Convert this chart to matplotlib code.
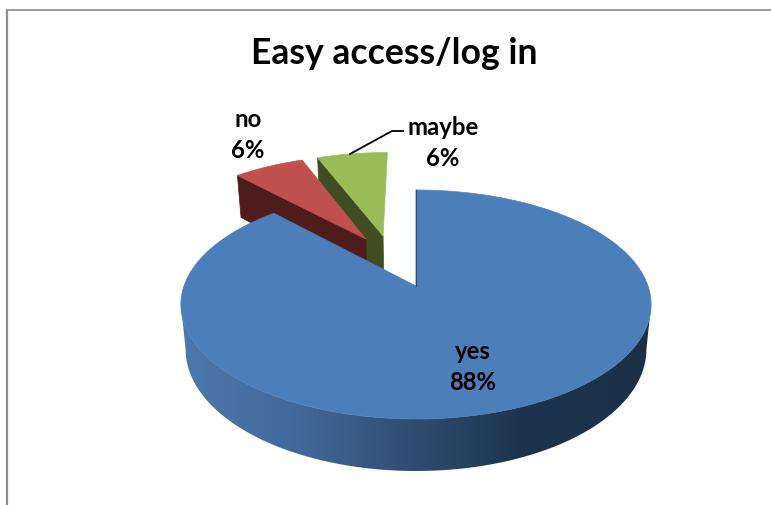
import numpy as np
import matplotlib
matplotlib.use("Agg")
import matplotlib.pyplot as plt
from matplotlib.patches import Polygon
from matplotlib.colors import LinearSegmentedColormap

# ---- data ----
categories = ["yes", "no", "maybe"]
values = [88, 6, 6]
title = "Easy access/log in"

# ---- style ----
top_colors = ["#4C7EBA", "#C0504D", "#9BBB59"]
wall_colors = ["#1D3249", "#4E1D1B", "#3F4D22"]
explode_offsets = [(0.0, 0.0), (-0.232, 0.452), (-0.153, 0.4835)]
label_xy = [(473, 367), (248, 135), (443, 143)]
APEX = (416.0, 287.0)
A, B, K = 232.0, 111.5, 0.1616
rim_stops_x = [182, 300, 416, 520, 652]
rim_stops_c = ["#4D78AC", "#42689A", "#2F4C70", "#1E344E", "#1C3048"]

plt.rcParams["font.family"] = ["Lato", "DejaVu Sans"]
fig = plt.figure(figsize=(7.71, 5.06), dpi=100, facecolor="white")
ax = fig.add_axes([0, 0, 1, 1])
ax.set_xlim(0, 771)
ax.set_ylim(506, 0)
ax.axis("off")


def project(u, v, depth=0.0, xscale=1.0):
    """Perspective projection of the unit-radius pie plane to pixels."""
    w = 1 + K * v
    x = APEX[0] + xscale * A * u / w
    y = APEX[1] - B * v / w + depth / w
    return x, y


def edge(theta):
    return np.sin(theta), np.cos(theta)


# slice angles follow the values, clockwise from 12 o'clock
fracs = np.array(values, dtype=float) / sum(values)
ends = np.cumsum(fracs) * 2 * np.pi
starts = ends - fracs * 2 * np.pi

# frame of the screenshot
ax.plot([7, 7], [506, 10.5], color="#8E8E8E", lw=1.6, solid_capstyle="butt", zorder=1)
ax.plot([6, 771], [10.5, 10.5], color="#8E8E8E", lw=1.2, solid_capstyle="butt", zorder=1)

# exploded slices back to front: maybe, no
for z, i in zip((2, 4), (2, 1)):
    ou, ov = explode_offsets[i]
    t = np.linspace(starts[i], ends[i], 40)
    su, sv = edge(t)
    u0, v0 = edge(starts[i])
    a = project(ou, ov)
    b = project(ou + u0, ov + v0)
    c = project(ou + u0, ov + v0, 50, 0.98)
    d = project(ou, ov, 50, 0.98)
    ax.fill([a[0], b[0], c[0], d[0]], [a[1], b[1], c[1], d[1]],
            color=wall_colors[i], lw=0.5, zorder=z)
    px, py = project(np.r_[ou, ou + su], np.r_[ov, ov + sv])
    ax.fill(px, py, color=top_colors[i], lw=0.5, zorder=z + 1)

# main slice rim: between the side extremes of both planes, smooth shading
t = np.linspace(np.radians(40), np.radians(320), 600)
su, sv = edge(t)
xt, yt = project(su, sv)
xb, yb = project(su, sv, 43.6, 0.98)
rt, lt = np.argmax(xt), np.argmin(xt)
rb, lb = np.argmax(xb), np.argmin(xb)
cmap = LinearSegmentedColormap.from_list(
    "rim", [((x - rim_stops_x[0]) / (rim_stops_x[-1] - rim_stops_x[0]), c)
            for x, c in zip(rim_stops_x, rim_stops_c)])
grad = ax.imshow(np.linspace(0, 1, 512)[None, :], extent=(rim_stops_x[0], rim_stops_x[-1], 480, 280),
                 cmap=cmap, aspect="auto", zorder=6, interpolation="bilinear")
ax.set_xlim(0, 771)
ax.set_ylim(506, 0)
clip = Polygon(np.c_[np.r_[xt[rt:lt + 1], xb[rb:lb + 1][::-1]],
                     np.r_[yt[rt:lt + 1], yb[rb:lb + 1][::-1]]], closed=True,
               transform=ax.transData, facecolor="none", edgecolor="none")
ax.add_patch(clip)
grad.set_clip_path(clip)

# main slice top
t = np.linspace(starts[0], ends[0], 300)
su, sv = edge(t)
px, py = project(np.r_[0.0, su], np.r_[0.0, sv])
ax.fill(px, py, color=top_colors[0], lw=0.5, zorder=7)
ex, ey = project(np.array([0.0, 0.0]), np.array([0.0, 1.0]))
ax.plot(ex, ey, color="#2F4C70", lw=0.9, zorder=8)

# leader line for "maybe"
ax.plot([350, 392, 403], [155, 132, 132], color="black", lw=1.3, zorder=9)

# texts
ax.text(394, 53, title, ha="center", va="center", fontsize=25.6, fontweight="bold",
        color="black", zorder=10)
for name, val, (lx, ly) in zip(categories, values, label_xy):
    ax.text(lx, ly, f"{name}\n{val}%", ha="center", va="center", fontsize=17.2,
            fontweight="bold", color="black", linespacing=1.42, zorder=10)

fig.savefig("out.png", dpi=100, facecolor="white")
